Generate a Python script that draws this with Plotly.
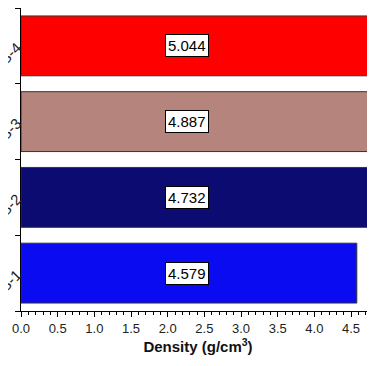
import plotly.graph_objects as go

samples = ["S-1", "S-2", "S-3", "S-4"]
density = [4.579, 4.732, 4.887, 5.044]
labels = ["4.579", "4.732", "4.887", "5.044"]
colors = ["#0B0BF2", "#0B0B72", "#B5857D", "#FF0000"]

fig = go.Figure()
fig.add_trace(go.Bar(
    y=samples, x=density, orientation="h", width=0.79,
    marker=dict(color=colors, line=dict(color="#333333", width=1)),
    showlegend=False, hoverinfo="skip",
))
for s, lab in zip(samples, labels):
    fig.add_annotation(x=2.26, y=s, text=lab, showarrow=False,
                       font=dict(family="Liberation Sans, Arial", size=15, color="black"),
                       bgcolor="white", bordercolor="black", borderwidth=1, borderpad=2)

fig.update_layout(
    width=367, height=358,
    margin=dict(l=13, r=0, t=0, b=55, autoexpand=False),
    paper_bgcolor="white", plot_bgcolor="white",
    font=dict(family="Liberation Sans, Arial", size=13, color="#222222"),
    bargap=0.2,
)
fig.update_xaxes(
    range=[0, 4.827], dtick=0.5, tick0=0, tickformat=".1f", automargin=False,
    ticks="outside", ticklen=5, tickcolor="black", tickwidth=1,
    minor=dict(dtick=0.1, ticks="outside", ticklen=3, tickcolor="black"),
    showline=True, linecolor="black", linewidth=1, showgrid=False, zeroline=False,
    tickfont=dict(size=13, color="#222222"),
    title=dict(text="<b>Density (g/cm<sup>3</sup>)</b>", font=dict(size=15, color="#111111"), standoff=5),
)
fig.update_yaxes(
    type="category", range=[-0.5, 3.5], tickson="boundaries", automargin=False,
    ticks="outside", ticklen=5, tickcolor="black", tickwidth=1,
    showline=True, linecolor="black", linewidth=1, showgrid=False,
    tickangle=-45, tickfont=dict(size=15, color="#222222"),
)
fig.write_html("out.html")
